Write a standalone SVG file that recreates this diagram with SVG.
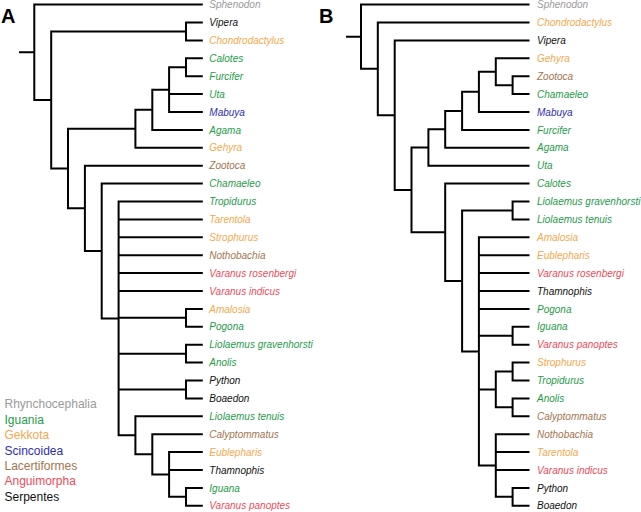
<svg xmlns="http://www.w3.org/2000/svg" width="641" height="512" viewBox="0 0 641 512">
<style>
.br{fill:none;stroke:#000;stroke-width:2;stroke-linejoin:miter;stroke-linecap:butt}
.lf{font-family:"Liberation Sans",Arial,sans-serif;font-style:italic;font-size:10px}
.lg{font-family:"Liberation Sans",Arial,sans-serif;font-size:12px}
.pl{font-family:"Liberation Sans",Arial,sans-serif;font-weight:bold;font-size:20px;fill:#000}
.rh{fill:#9a9a9a}.ig{fill:#1f9b4a}.gk{fill:#f5a84e}.sc{fill:#2e2eb0}.la{fill:#a3744f}.an{fill:#ec4b5a}.se{fill:#111}
</style>
<rect width="641" height="512" fill="#fff"/>
<g id="connectors">
<g id="treeA-branches">
<path class="br" d="M19 52.3H34.3M202.8 4.6H34.3V100H51.2"/>
<path class="br" d="M186 31.45H51.2V168.57H68"/>
<path class="br" d="M202.8 22.5H186V40.4H202.8"/>
<path class="br" d="M135.4 128.78H68V208.35H84.9"/>
<path class="br" d="M152.3 109.77H135.4V147.8H202.8"/>
<path class="br" d="M169.1 89.63H152.3V129.9H202.8"/>
<path class="br" d="M186 67.25H169.1V112H202.8M169.1 94.1H202.8"/>
<path class="br" d="M202.8 58.3H186V76.2H202.8"/>
<path class="br" d="M202.8 165.7H84.9V251H101.7"/>
<path class="br" d="M202.8 183.6H101.7V318.41H118.6"/>
<path class="br" d="M202.8 201.5H118.6V435.32H135.4M118.6 219.4H202.8M118.6 237.3H202.8M118.6 255.2H202.8M118.6 273.1H202.8M118.6 291H202.8M118.6 317.85H186M118.6 353.65H186M118.6 389.45H186"/>
<path class="br" d="M202.8 308.9H186V326.8H202.8"/>
<path class="br" d="M202.8 344.7H186V362.6H202.8"/>
<path class="br" d="M202.8 380.5H186V398.4H202.8"/>
<path class="br" d="M202.8 416.3H135.4V454.34H152.3"/>
<path class="br" d="M202.8 434.2H152.3V474.47H169.1"/>
<path class="br" d="M202.8 452.1H169.1V496.85H186M169.1 470H202.8"/>
<path class="br" d="M202.8 487.9H186V505.8H202.8"/>
</g>
<g id="treeB-branches">
<path class="br" d="M346 36.7H361M529.5 4.6H361V68.8H377.8"/>
<path class="br" d="M529.5 22.5H377.8V115.15H394.7"/>
<path class="br" d="M529.5 40.4H394.7V189.89H411.5"/>
<path class="br" d="M428.4 147.52H411.5V232.26H445.2"/>
<path class="br" d="M445.2 129.34H428.4V165.7H529.5"/>
<path class="br" d="M462.1 110.88H445.2V147.8H529.5"/>
<path class="br" d="M478.9 91.86H462.1V129.9H529.5"/>
<path class="br" d="M495.8 71.73H478.9V112H529.5"/>
<path class="br" d="M529.5 58.3H495.8V85.15H512.6"/>
<path class="br" d="M529.5 76.2H512.6V94.1H529.5"/>
<path class="br" d="M529.5 183.6H445.2V280.93H462.1"/>
<path class="br" d="M512.6 210.45H462.1V351.4H478.9"/>
<path class="br" d="M529.5 201.5H512.6V219.4H529.5"/>
<path class="br" d="M529.5 237.3H478.9V465.53H495.8M478.9 255.2H529.5M478.9 273.1H529.5M478.9 291H529.5M478.9 308.9H529.5M478.9 335.75H512.6M478.9 389.45H495.8"/>
<path class="br" d="M529.5 326.8H512.6V344.7H529.5"/>
<path class="br" d="M512.6 371.55H495.8V407.35H512.6"/>
<path class="br" d="M529.5 362.6H512.6V380.5H529.5"/>
<path class="br" d="M529.5 398.4H512.6V416.3H529.5"/>
<path class="br" d="M529.5 434.2H495.8V496.85H512.6M495.8 452.1H529.5M495.8 470H529.5"/>
<path class="br" d="M529.5 487.9H512.6V505.8H529.5"/>
</g>
</g>
<g id="panel-labels">
<text class="pl" x="1" y="23.3">A</text>
<text class="pl" x="319" y="23.3">B</text>
</g>
<g id="treeA-leaves" class="lf">
<g id="A-Sphenodon"><text class="rh" x="209.3" y="8.2">Sphenodon</text></g>
<g id="A-Vipera"><text class="se" x="209.3" y="26.1">Vipera</text></g>
<g id="A-Chondrodactylus"><text class="gk" x="209.3" y="44">Chondrodactylus</text></g>
<g id="A-Calotes"><text class="ig" x="209.3" y="61.9">Calotes</text></g>
<g id="A-Furcifer"><text class="ig" x="209.3" y="79.8">Furcifer</text></g>
<g id="A-Uta"><text class="ig" x="209.3" y="97.7">Uta</text></g>
<g id="A-Mabuya"><text class="sc" x="209.3" y="115.6">Mabuya</text></g>
<g id="A-Agama"><text class="ig" x="209.3" y="133.5">Agama</text></g>
<g id="A-Gehyra"><text class="gk" x="209.3" y="151.4">Gehyra</text></g>
<g id="A-Zootoca"><text class="la" x="209.3" y="169.3">Zootoca</text></g>
<g id="A-Chamaeleo"><text class="ig" x="209.3" y="187.2">Chamaeleo</text></g>
<g id="A-Tropidurus"><text class="ig" x="209.3" y="205.1">Tropidurus</text></g>
<g id="A-Tarentola"><text class="gk" x="209.3" y="223">Tarentola</text></g>
<g id="A-Strophurus"><text class="gk" x="209.3" y="240.9">Strophurus</text></g>
<g id="A-Nothobachia"><text class="la" x="209.3" y="258.8">Nothobachia</text></g>
<g id="A-Varanus-rosenbergi"><text class="an" x="209.3" y="276.7">Varanus rosenbergi</text></g>
<g id="A-Varanus-indicus"><text class="an" x="209.3" y="294.6">Varanus indicus</text></g>
<g id="A-Amalosia"><text class="gk" x="209.3" y="312.5">Amalosia</text></g>
<g id="A-Pogona"><text class="ig" x="209.3" y="330.4">Pogona</text></g>
<g id="A-Liolaemus-gravenhorsti"><text class="ig" x="209.3" y="348.3">Liolaemus gravenhorsti</text></g>
<g id="A-Anolis"><text class="ig" x="209.3" y="366.2">Anolis</text></g>
<g id="A-Python"><text class="se" x="209.3" y="384.1">Python</text></g>
<g id="A-Boaedon"><text class="se" x="209.3" y="402">Boaedon</text></g>
<g id="A-Liolaemus-tenuis"><text class="ig" x="209.3" y="419.9">Liolaemus tenuis</text></g>
<g id="A-Calyptommatus"><text class="la" x="209.3" y="437.8">Calyptommatus</text></g>
<g id="A-Eublepharis"><text class="gk" x="209.3" y="455.7">Eublepharis</text></g>
<g id="A-Thamnophis"><text class="se" x="209.3" y="473.6">Thamnophis</text></g>
<g id="A-Iguana"><text class="ig" x="209.3" y="491.5">Iguana</text></g>
<g id="A-Varanus-panoptes"><text class="an" x="209.3" y="509.4">Varanus panoptes</text></g>
</g>
<g id="treeB-leaves" class="lf">
<g id="B-Sphenodon"><text class="rh" x="537" y="8.2">Sphenodon</text></g>
<g id="B-Chondrodactylus"><text class="gk" x="537" y="26.1">Chondrodactylus</text></g>
<g id="B-Vipera"><text class="se" x="537" y="44">Vipera</text></g>
<g id="B-Gehyra"><text class="gk" x="537" y="61.9">Gehyra</text></g>
<g id="B-Zootoca"><text class="la" x="537" y="79.8">Zootoca</text></g>
<g id="B-Chamaeleo"><text class="ig" x="537" y="97.7">Chamaeleo</text></g>
<g id="B-Mabuya"><text class="sc" x="537" y="115.6">Mabuya</text></g>
<g id="B-Furcifer"><text class="ig" x="537" y="133.5">Furcifer</text></g>
<g id="B-Agama"><text class="ig" x="537" y="151.4">Agama</text></g>
<g id="B-Uta"><text class="ig" x="537" y="169.3">Uta</text></g>
<g id="B-Calotes"><text class="ig" x="537" y="187.2">Calotes</text></g>
<g id="B-Liolaemus-gravenhorsti"><text class="ig" x="537" y="205.1">Liolaemus gravenhorsti</text></g>
<g id="B-Liolaemus-tenuis"><text class="ig" x="537" y="223">Liolaemus tenuis</text></g>
<g id="B-Amalosia"><text class="gk" x="537" y="240.9">Amalosia</text></g>
<g id="B-Eublepharis"><text class="gk" x="537" y="258.8">Eublepharis</text></g>
<g id="B-Varanus-rosenbergi"><text class="an" x="537" y="276.7">Varanus rosenbergi</text></g>
<g id="B-Thamnophis"><text class="se" x="537" y="294.6">Thamnophis</text></g>
<g id="B-Pogona"><text class="ig" x="537" y="312.5">Pogona</text></g>
<g id="B-Iguana"><text class="ig" x="537" y="330.4">Iguana</text></g>
<g id="B-Varanus-panoptes"><text class="an" x="537" y="348.3">Varanus panoptes</text></g>
<g id="B-Strophurus"><text class="gk" x="537" y="366.2">Strophurus</text></g>
<g id="B-Tropidurus"><text class="ig" x="537" y="384.1">Tropidurus</text></g>
<g id="B-Anolis"><text class="ig" x="537" y="402">Anolis</text></g>
<g id="B-Calyptommatus"><text class="la" x="537" y="419.9">Calyptommatus</text></g>
<g id="B-Nothobachia"><text class="la" x="537" y="437.8">Nothobachia</text></g>
<g id="B-Tarentola"><text class="gk" x="537" y="455.7">Tarentola</text></g>
<g id="B-Varanus-indicus"><text class="an" x="537" y="473.6">Varanus indicus</text></g>
<g id="B-Python"><text class="se" x="537" y="491.5">Python</text></g>
<g id="B-Boaedon"><text class="se" x="537" y="509.4">Boaedon</text></g>
</g>
<g id="legend" class="lg">
<text class="rh" x="4.5" y="408.3">Rhynchocephalia</text>
<text class="ig" x="4.5" y="423.7">Iguania</text>
<text class="gk" x="4.5" y="439.1">Gekkota</text>
<text class="sc" x="4.5" y="454.5">Scincoidea</text>
<text class="la" x="4.5" y="469.9">Lacertiformes</text>
<text class="an" x="4.5" y="485.3">Anguimorpha</text>
<text class="se" x="4.5" y="500.7">Serpentes</text>
</g>
</svg>
